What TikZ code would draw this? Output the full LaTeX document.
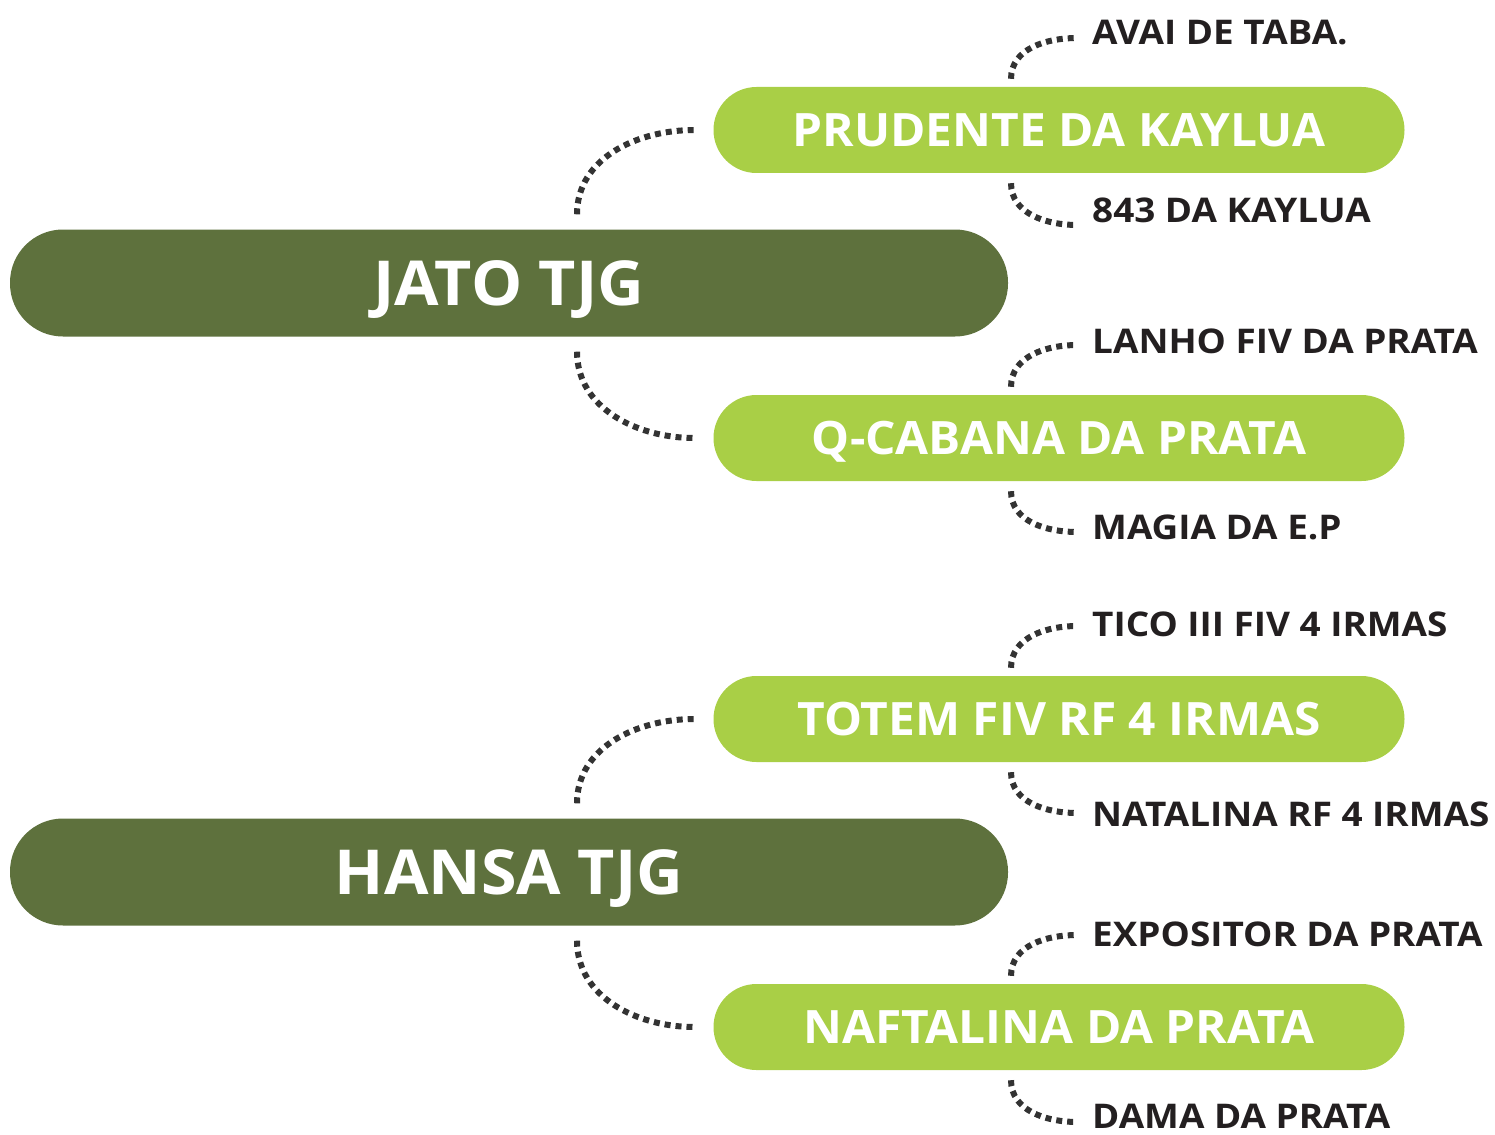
\documentclass[tikz,border=0pt]{standalone}
\usepackage{fontspec}
\setmainfont{Open Sans}[FakeStretch=1.04]
\newfontfamily\labelfont{Open Sans}[FakeStretch=1.085]
\usepackage{xcolor}
\usetikzlibrary{positioning}
\definecolor{sireGreen}{HTML}{5E713D}
\definecolor{damGreen}{HTML}{A9CF46}
\definecolor{dotGray}{HTML}{333333}
\definecolor{nameBlack}{HTML}{231F20}

\begin{document}
\begin{tikzpicture}[
x=1pt, y=-1pt,
sire/.style={fill=sireGreen, rounded corners=53pt, minimum width=998pt, minimum height=107pt, text=white, text height=44pt, text depth=0pt, font=\fontsize{62}{62}\selectfont\bfseries},
parent/.style={fill=damGreen, rounded corners=43pt, minimum width=691pt, minimum height=86pt, text=white, text height=33pt, text depth=0pt, font=\fontsize{46}{46}\selectfont\bfseries},
grand/.style={anchor=west, inner sep=0pt, text=nameBlack, text height=24pt, text depth=0pt, font=\labelfont\fontsize{34}{34}\selectfont\bfseries},
dots/.style={draw=dotGray, line width=6pt, dash pattern=on 6pt off 5pt}
]
\useasboundingbox (0,0) rectangle (1495,1134);
% sires
\node[sire] (jato) at (509,283) {JATO TJG};
\node[sire] (hansa) at (509,872) {HANSA TJG};
% parents
\node[parent] (prud) at (1059,130) {PRUDENTE DA KAYLUA};
\node[parent] (cabana) at (1059,438) {Q-CABANA DA PRATA};
\node[parent] (totem) at (1059,719) {TOTEM FIV RF 4 IRMAS};
\node[parent] (naft) at (1059,1027) {NAFTALINA DA PRATA};
% grandparents
\node[grand] (avai) at (1092,33) {AVAI DE TABA.};
\node[grand] (kaylua) at (1092,210.5) {843 DA KAYLUA};
\node[grand] (lanho) at (1092,341.5) {LANHO FIV DA PRATA};
\node[grand] (magia) at (1092,527) {MAGIA DA E.P};
\node[grand] (tico) at (1092,624) {TICO III FIV 4 IRMAS};
\node[grand] (natal) at (1092,814) {NATALINA RF 4 IRMAS};
\node[grand] (expo) at (1092,934) {EXPOSITOR DA PRATA};
\node[grand] (dama) at (1092,1116) {DAMA DA PRATA};
% sire to parents
\draw[dots] ([xshift=68pt,yshift=15pt]jato.north) to[out=90,in=180] ([xshift=-19pt]prud.west);
\draw[dots] ([xshift=68pt,yshift=-15pt]jato.south) to[out=-90,in=180] ([xshift=-19pt]cabana.west);
\draw[dots] ([xshift=68pt,yshift=15pt]hansa.north) to[out=90,in=180] ([xshift=-19pt]totem.west);
\draw[dots] ([xshift=68pt,yshift=-15pt]hansa.south) to[out=-90,in=180] ([xshift=-19pt]naft.west);
% parents to grandparents
\foreach \p/\u/\us/\d/\ds in {prud/avai/-5/kaylua/-14.5, cabana/lanho/-3.5/magia/-5,
                              totem/tico/-2/natal/1, naft/expo/-1/dama/-6}{
  \draw[dots] ([xshift=-48pt,yshift=8pt]\p.north) to[out=90,in=180] ([xshift=-15pt,yshift=\us pt]\u.west);
  \draw[dots] ([xshift=-48pt,yshift=-10pt]\p.south) to[out=-90,in=180] ([xshift=-15pt,yshift=\ds pt]\d.west);
}
\end{tikzpicture}
\end{document}
